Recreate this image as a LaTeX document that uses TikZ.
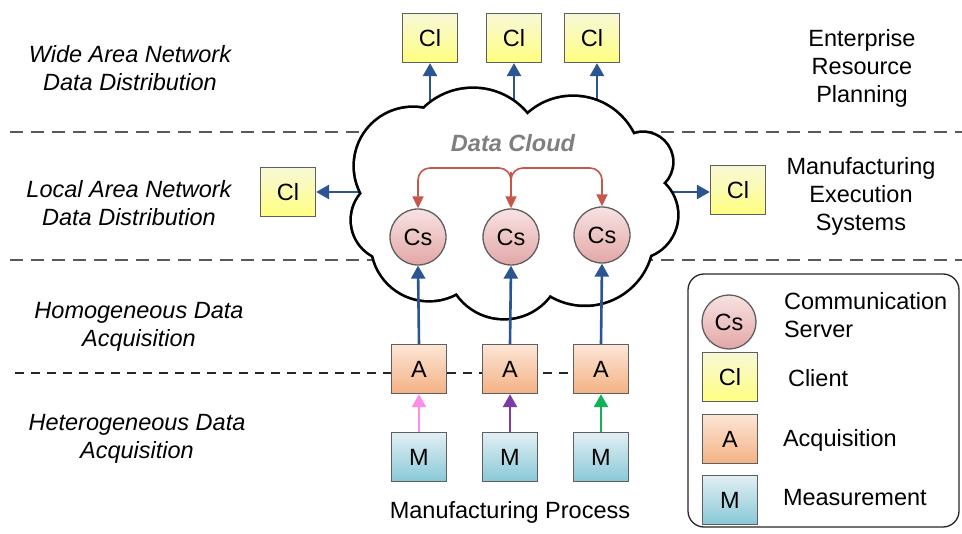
\documentclass[tikz,border=0pt]{standalone}
\usepackage{fontspec}
\setmainfont{Liberation Sans}
\usetikzlibrary{arrows.meta}

\definecolor{boxgray}{HTML}{5F5F5F}
\definecolor{sepgray}{HTML}{5A5A5A}
\definecolor{flowblue}{HTML}{2A5592}
\definecolor{syncred}{HTML}{C9564A}
\definecolor{clTop}{HTML}{F8F8D8}
\definecolor{clBot}{HTML}{FFFF80}
\definecolor{aTop}{HTML}{FCE6D6}
\definecolor{aBot}{HTML}{F4B184}
\definecolor{mTop}{HTML}{E2EFF3}
\definecolor{mBot}{HTML}{88C8D8}
\definecolor{csTop}{HTML}{F8E2E2}
\definecolor{csBot}{HTML}{E3A7A7}
\definecolor{pinkflow}{HTML}{FF8CEB}
\definecolor{purpleflow}{HTML}{7A3BA8}
\definecolor{greenflow}{HTML}{12B25A}
\definecolor{cloudtext}{HTML}{7F7F7F}

\tikzset{
  box/.style={draw=boxgray, line width=1.3pt, minimum width=55pt, minimum height=49pt, inner sep=0pt},
  cl/.style={box, top color=clTop, bottom color=clBot},
  acq/.style={box, top color=aTop, bottom color=aBot},
  meas/.style={box, top color=mTop, bottom color=mBot},
  srv/.style={circle, draw=boxgray, line width=1.3pt, minimum size=56pt, inner sep=0pt, top color=csTop, bottom color=csBot},
  flow/.style={draw=flowblue, line width=2.6pt, -{Triangle[length=13pt,width=14pt]}},
  feed/.style={line width=2.6pt, -{Triangle[length=13pt,width=14pt]}},
  sync/.style={draw=syncred, line width=1.6pt, -{Triangle[length=12pt,width=11pt]}, rounded corners=12pt},
  sep/.style={draw=sepgray, line width=2pt, dash pattern=on 13pt off 8pt},
  thinsep/.style={draw=black!85, line width=1.4pt, dash pattern=on 9pt off 7pt},
  layer/.style={align=center, font=\itshape},
  side/.style={align=center},
}

\begin{document}
\begin{tikzpicture}[x=1pt,y=-1pt]
\fontsize{23.5}{28}\selectfont
\useasboundingbox (0,0) rectangle (962,534);

% layer separators
\draw[sep] (10,132) -- (962,132);
\draw[sep] (10,260) -- (962,260);

% layer captions
\node[layer] (wan) at (130,68) {Wide Area Network\\Data Distribution};
\node[layer] (lan) at (129,203) {Local Area Network\\Data Distribution};
\node[layer] (homo) at (139,327) {Homogeneous Data\\Acquisition};
\node[layer] (hetero) at (137,439) {Heterogeneous Data\\Acquisition};
\node[side] (erp) at (862,68) {Enterprise\\Resource\\Planning};
\node[side] (mes) at (861,196) {Manufacturing\\Execution\\Systems};

% clients
\node[cl] (clt1) at (430,38) {Cl};
\node[cl] (clt2) at (514,38) {Cl};
\node[cl] (clt3) at (592,38) {Cl};
\node[cl] (clL) at (288,192) {Cl};
\node[cl] (clR) at (738,190) {Cl};

% arrows leaving the cloud (their tails are hidden under it)
\coordinate (o1) at (430,140);
\coordinate (o2) at (514,140);
\coordinate (o3) at (597,140);
\coordinate (oL) at (380,192);
\coordinate (oR) at (650,192);
\draw[flow] (o1) -- (o1 |- clt1.south);
\draw[flow] (o2) -- (clt2.south);
\draw[flow] (o3) -- (o3 |- clt3.south);
\draw[flow] (oL) -- (clL.east);
\draw[flow] (oR) -- (oR -| clR.west);

% data cloud: stroked puffs, then their fills laid over the inner strokes
\def\puffs{
  (473,159) circle (70pt)
  (573,164) circle (67pt)
  (643,162) circle (29pt)
  (634,215) circle (43pt)
  (585,237) circle (67.5pt)
  (504,261) circle (57pt)
  (429,243) circle (57pt)
  (392,220) circle (40pt)
  (413,166) circle (58pt)
}
\draw[black, line width=5.4pt, fill=white] \puffs;
\fill[white] \puffs;
\fill[white] (473,159) -- (573,164) -- (643,162) -- (634,215) -- (585,237)
  -- (504,261) -- (429,243) -- (392,220) -- (413,166) -- cycle;
\node[font=\bfseries\itshape, text=cloudtext] (cloudname) at (513,143) {Data Cloud};

% communication servers
\node[srv] (cs1) at (418,237) {Cs};
\node[srv] (cs2) at (511,237) {Cs};
\node[srv] (cs3) at (602,235) {Cs};

% replication between servers
\coordinate (fork) at (511,190);
\draw[sync] (fork) -- (511,168) -- (cs1.north |- 0,168) -- (cs1.north);
\draw[sync] (fork) -- (511,168) -- (cs3.north |- 0,168) -- (cs3.north);
\draw[sync] (511,172) -- (cs2.north);

% field-level boundary, running behind the acquisition boxes
\draw[thinsep] (15,373) -- (601,373);

% acquisition and measurement
\node[acq] (a1) at (419,369) {A};
\node[acq] (a2) at (510,369) {A};
\node[acq] (a3) at (601,369) {A};
\node[meas] (m1) at (419,457) {M};
\node[meas] (m2) at (510,457) {M};
\node[meas] (m3) at (601,457) {M};

\draw[flow] (a1.north) -- (cs1.south);
\draw[flow] (a2.north) -- (cs2.south);
\draw[flow] (a3.north) -- (cs3.south);
\draw[feed, draw=pinkflow] (m1.north) -- (a1.south);
\draw[feed, draw=purpleflow] (m2.north) -- (a2.south);
\draw[feed, draw=greenflow] (m3.north) -- (a3.south);

\node (process) at (510,512) {Manufacturing Process};

% legend
\draw[draw=black!85, line width=1.3pt, rounded corners=16pt] (688,274) rectangle (959,527);
\node[srv, minimum size=54pt] (lcs) at (729,322) {Cs};
\node[cl] (lcl) at (730,377) {Cl};
\node[acq] (la) at (730,439) {A};
\node[meas] (lm) at (730,500) {M};
\node[anchor=west, align=left] (tcs) at (776,315) {Communication\\Server};
\node[anchor=west] (tcl) at (780,378) {Client};
\node[anchor=west] (ta) at (775,440) {Acquisition};
\node[anchor=west] (tm) at (775,498) {Measurement};
\end{tikzpicture}
\end{document}
